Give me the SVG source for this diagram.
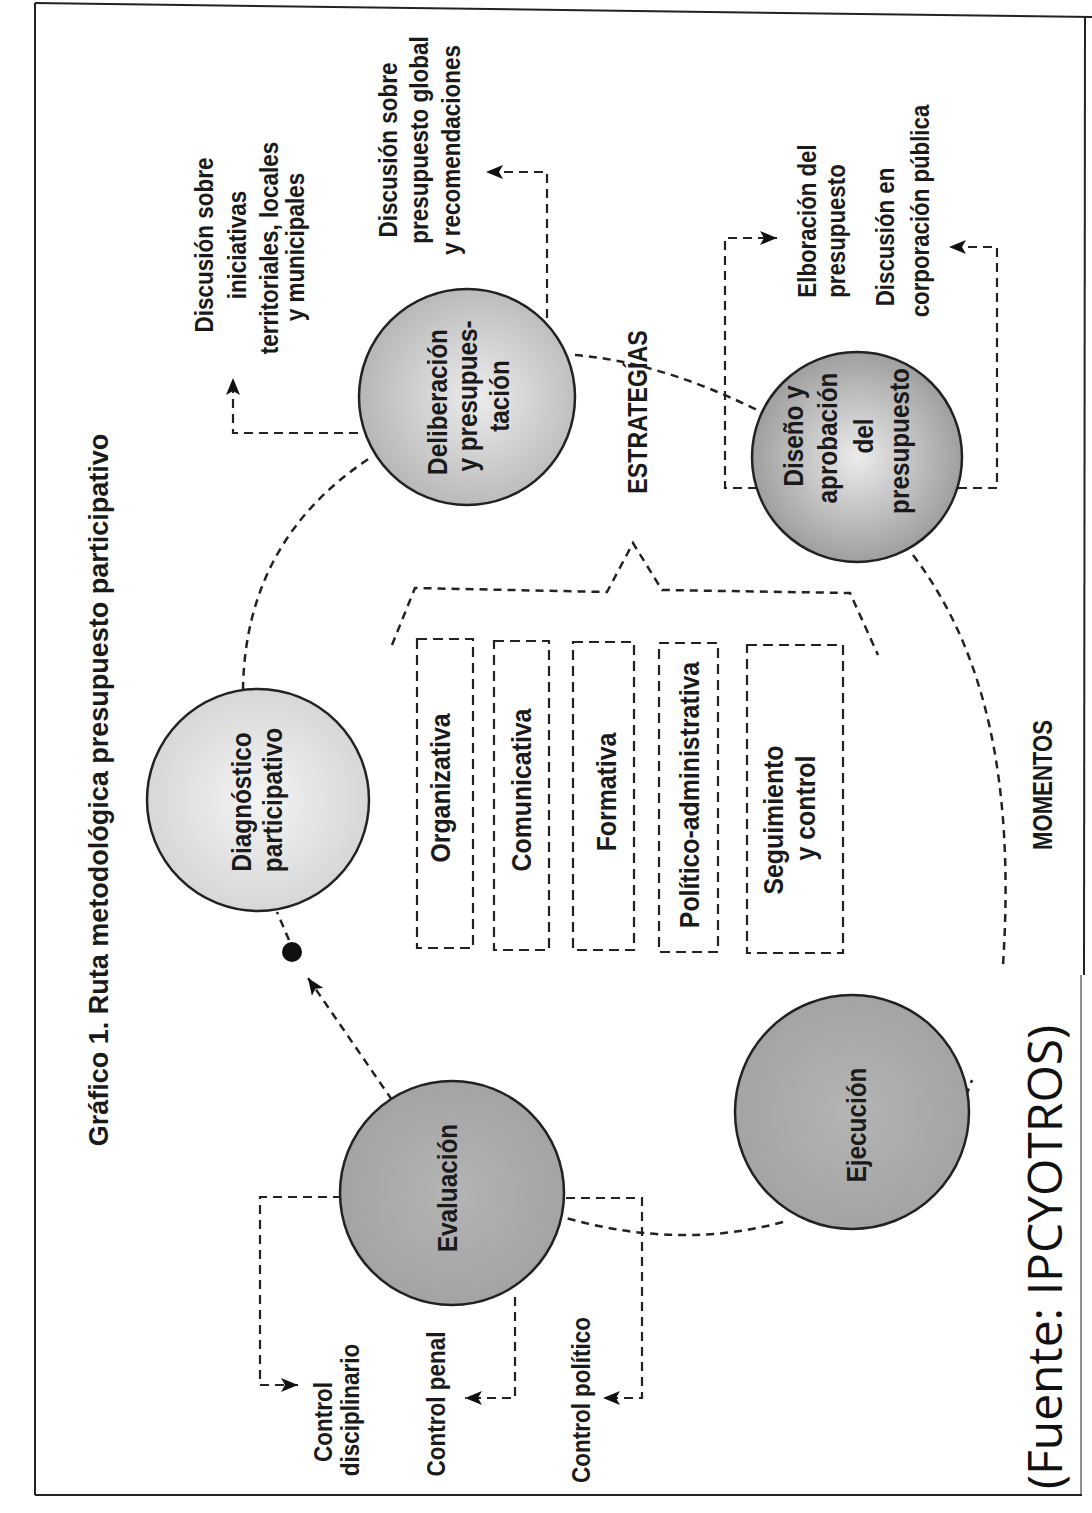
<svg xmlns="http://www.w3.org/2000/svg" width="1092" height="1513" viewBox="0 0 1092 1513">
<style>
.t{font-family:"Liberation Sans",Arial,sans-serif;font-weight:bold;fill:#1a1a1a;text-anchor:middle}
.s25{font-size:25px}
.s27{font-size:27px}
.title{font-size:27px}
.src{font-family:"Open Sans","Liberation Sans",sans-serif;font-weight:normal;font-size:48px;fill:#111;text-anchor:middle}
.node{stroke:#222;stroke-width:2.5}
.cyc{fill:none;stroke:#222;stroke-width:2.5;stroke-dasharray:8 6}
.con{fill:none;stroke:#222;stroke-width:2.2;stroke-dasharray:9 6}
.box{fill:none;stroke:#222;stroke-width:2.2;stroke-dasharray:10 6}
.frame{fill:none;stroke:#222;stroke-width:2}
</style>
<defs>
<radialGradient id="gLight" cx="50%" cy="50%" r="55%"><stop offset="0" stop-color="#f4f4f4"/><stop offset="1" stop-color="#d4d4d4"/></radialGradient>
<radialGradient id="gMid" cx="55%" cy="50%" r="55%"><stop offset="0" stop-color="#ececec"/><stop offset="1" stop-color="#b6b6b6"/></radialGradient>
<radialGradient id="gDis" cx="50%" cy="50%" r="55%"><stop offset="0" stop-color="#ebebeb"/><stop offset="1" stop-color="#979797"/></radialGradient>
<radialGradient id="gDark" cx="50%" cy="50%" r="55%"><stop offset="0" stop-color="#b4b4b4"/><stop offset="1" stop-color="#a2a2a2"/></radialGradient>
<marker id="ah" markerUnits="userSpaceOnUse" markerWidth="18" markerHeight="14" refX="17" refY="7" orient="auto">
<path d="M0,0 L17,7 L0,14 L4,7 z" fill="#111"/>
</marker>
</defs>
<rect width="1092" height="1513" fill="#fff"/>
<g id="frame">
<line class="frame" x1="35" y1="3" x2="35" y2="1495"/>
<line class="frame" x1="35" y1="1495" x2="1082" y2="1495"/>
<line class="frame" x1="35" y1="3" x2="1092" y2="17"/>
<line class="frame" x1="1085" y1="17" x2="1084" y2="975"/>
<line class="frame" x1="1081" y1="975" x2="1081" y2="1495" style="stroke-width:1"/>
</g>
<text class="t title" transform="translate(108,790) rotate(-90)">Gráfico 1. Ruta metodológica presupuesto participativo</text>
<g id="connectors">
<path class="cyc" d="M392,1100 L308,978" marker-end="url(#ah)"/>
<circle cx="292" cy="952" r="10" fill="#111"/>
<path class="cyc" d="M289,940 L277,912"/>
<path class="cyc" d="M243,690 Q245,540 370,458"/>
<path class="cyc" d="M575,355 Q660,362 757,410"/>
<path class="cyc" d="M913,555 C985,650 1015,780 1003,965"/>
<path class="cyc" d="M966,1096 L972,1080"/>
<path class="cyc" d="M783,1222 Q680,1250 566,1218"/>
<path class="con" d="M358,433 H233 V378" marker-end="url(#ah)"/>
<path class="con" d="M547,318 V172 H486" marker-end="url(#ah)"/>
<path class="con" d="M757,488 H725 V238 H777" marker-end="url(#ah)"/>
<path class="con" d="M958,488 H997 V247 H949" marker-end="url(#ah)"/>
<path class="con" d="M342,1197 H260 V1385 H298" marker-end="url(#ah)"/>
<path class="con" d="M515,1297 V1398 H465" marker-end="url(#ah)"/>
<path class="con" d="M566,1198 H642 V1398 H603" marker-end="url(#ah)"/>
<path class="cyc" d="M392,645 L415,588 L607,592 L633,543 L662,590 L850,593 L878,655"/>
</g>
<g id="diagnostico">
<circle class="node" cx="258" cy="800" r="111" fill="url(#gLight)"/>
<text class="t s27" transform="translate(251,802) rotate(-90) scale(0.9,1)">Diagnóstico</text>
<text class="t s27" transform="translate(282,800) rotate(-90) scale(0.9,1)">participativo</text>
</g>
<g id="deliberacion">
<circle class="node" cx="467" cy="397" r="108" fill="url(#gMid)"/>
<text class="t s27" transform="translate(447,402) rotate(-90) scale(0.9,1)">Deliberación</text>
<text class="t s27" transform="translate(477,396) rotate(-90) scale(0.9,1)">y presupues-</text>
<text class="t s27" transform="translate(509,396) rotate(-90) scale(0.9,1)">tación</text>
</g>
<g id="diseno">
<circle class="node" cx="857" cy="457" r="105" fill="url(#gDis)"/>
<text class="t s27" transform="translate(803,436) rotate(-90) scale(0.9,1)">Diseño y</text>
<text class="t s27" transform="translate(837,438) rotate(-90) scale(0.9,1)">aprobación</text>
<text class="t s27" transform="translate(873,436) rotate(-90) scale(0.9,1)">del</text>
<text class="t s27" transform="translate(909,441) rotate(-90) scale(0.9,1)">presupuesto</text>
</g>
<g id="ejecucion">
<circle class="node" cx="852" cy="1112" r="117" fill="url(#gDark)"/>
<text class="t s27" transform="translate(866,1125) rotate(-90) scale(0.9,1)">Ejecución</text>
</g>
<g id="evaluacion">
<circle class="node" cx="452" cy="1193" r="112" fill="url(#gDark)"/>
<text class="t s27" transform="translate(457,1188) rotate(-90) scale(0.9,1)">Evaluación</text>
</g>
<g id="labels-deliberacion">
<text class="t s25" transform="translate(213,245) rotate(-90) scale(0.9,1)">Discusión sobre</text>
<text class="t s25" transform="translate(246,245) rotate(-90) scale(0.9,1)">iniciativas</text>
<text class="t s25" transform="translate(278,248) rotate(-90) scale(0.9,1)">territoriales, locales</text>
<text class="t s25" transform="translate(304,247) rotate(-90) scale(0.9,1)">y municipales</text>
<text class="t s25" transform="translate(397,150) rotate(-90) scale(0.9,1)">Discusión sobre</text>
<text class="t s25" transform="translate(428,140) rotate(-90) scale(0.9,1)">presupuesto global</text>
<text class="t s25" transform="translate(460,150) rotate(-90) scale(0.9,1)">y recomendaciones</text>
</g>
<g id="labels-diseno">
<text class="t s25" transform="translate(816,221) rotate(-90) scale(0.89,1)">Elboración del</text>
<text class="t s25" transform="translate(845,231) rotate(-90) scale(0.89,1)">presupuesto</text>
<text class="t s25" transform="translate(894,237) rotate(-90) scale(0.89,1)">Discusión en</text>
<text class="t s25" transform="translate(929,211) rotate(-90) scale(0.89,1)">corporación pública</text>
</g>
<g id="labels-evaluacion">
<text class="t s25" transform="translate(332,1422) rotate(-90) scale(0.9,1)">Control</text>
<text class="t s25" transform="translate(359,1410) rotate(-90) scale(0.9,1)">disciplinario</text>
<text class="t s25" transform="translate(445,1404) rotate(-90) scale(0.9,1)">Control penal</text>
<text class="t s25" transform="translate(590,1400) rotate(-90) scale(0.9,1)">Control político</text>
</g>
<g id="estrategias">
<rect class="box" x="417" y="639" width="56" height="309"/>
<text class="t s27" transform="translate(450,788) rotate(-90) scale(0.92,1)">Organizativa</text>
<rect class="box" x="494" y="641" width="55" height="309"/>
<text class="t s27" transform="translate(531,790) rotate(-90) scale(0.92,1)">Comunicativa</text>
<rect class="box" x="573" y="642" width="61" height="308"/>
<text class="t s27" transform="translate(616,792) rotate(-90) scale(0.92,1)">Formativa</text>
<rect class="box" x="659" y="643" width="59" height="309"/>
<text class="t s27" transform="translate(699,795) rotate(-90) scale(0.92,1)">Político-administrativa</text>
<rect class="box" x="747" y="645" width="96" height="308"/>
<text class="t s27" transform="translate(783,820) rotate(-90) scale(0.92,1)">Seguimiento</text>
<text class="t s27" transform="translate(815,808) rotate(-90) scale(0.92,1)">y control</text>
</g>
<text class="t s27" transform="translate(647,412) rotate(-90) scale(0.86,1)">ESTRATEGÍAS</text>
<text class="t s27" transform="translate(1052,785) rotate(-90) scale(0.82,1)">MOMENTOS</text>
<text class="src" transform="translate(1062,1257) rotate(-90)">(Fuente: IPCYOTROS)</text>
</svg>
